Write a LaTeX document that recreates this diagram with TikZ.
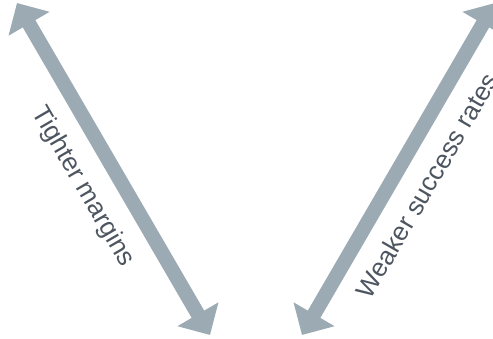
\documentclass[tikz,border=0pt]{standalone}
\usepackage{fontspec}
\setmainfont{Liberation Sans}
\usetikzlibrary{arrows.meta}
\definecolor{arrowgrey}{HTML}{9CAAB4}
\definecolor{textgrey}{HTML}{4D5560}
\tikzset{
  bigarrow/.style={draw=arrowgrey, line width=14.5pt,
    {Triangle[length=24pt,width=46pt]}-{Triangle[length=24pt,width=46pt]}},
  lbl/.style={text=textgrey, font=\fontsize{26}{30}\selectfont, inner sep=2pt}
}
\begin{document}
\begin{tikzpicture}[x=1pt,y=-1pt]
\useasboundingbox (0,0) rectangle (493,338);
\coordinate (la) at (17,3);
\coordinate (lb) at (210,335);
\coordinate (ra) at (302,335);
\coordinate (rb) at (495,3);
\draw[bigarrow] (la) -- node[lbl, sloped, below=14pt] {Tighter margins} (lb);
\draw[bigarrow] (ra) -- node[lbl, sloped, below=14pt] {Weaker success rates} (rb);
\end{tikzpicture}
\end{document}
